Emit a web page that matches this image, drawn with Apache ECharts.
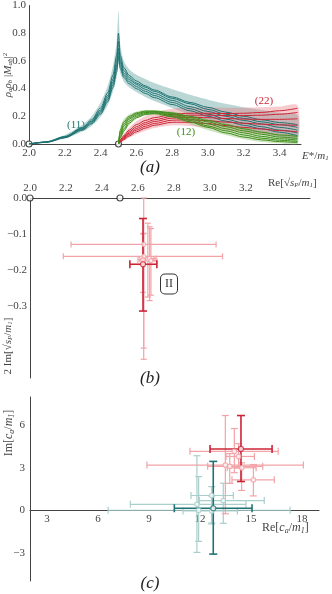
<!DOCTYPE html>
<html>
<head>
<meta charset="utf-8">
<script src="https://cdn.jsdelivr.net/npm/echarts@6/dist/echarts.min.js"></script>
<style>
html, body { margin: 0; padding: 0; background: #fff; }
#chart { width: 332px; height: 594px; }
</style>
</head>
<body>
<div id="chart"></div>
<script>
const energy = [2.0, 2.1, 2.2, 2.3, 2.35, 2.4, 2.44, 2.47, 2.49, 2.5, 2.51, 2.53, 2.56, 2.6, 2.65, 2.7, 2.8, 2.9, 3.0, 3.1, 3.2, 3.3, 3.4, 3.5]
const energyHi = [2.5, 2.51, 2.53, 2.56, 2.6, 2.65, 2.7, 2.8, 2.9, 3.0, 3.1, 3.2, 3.3, 3.4, 3.5]

const teal1 = [0, 0.016, 0.055, 0.12, 0.175, 0.26, 0.37, 0.5, 0.64, 0.8, 0.64, 0.55, 0.495, 0.455, 0.42, 0.39, 0.34, 0.30, 0.265, 0.23, 0.20, 0.175, 0.155, 0.14]
const teal2 = [0, 0.015, 0.052, 0.115, 0.165, 0.245, 0.35, 0.47, 0.6, 0.74, 0.61, 0.53, 0.48, 0.44, 0.41, 0.38, 0.33, 0.29, 0.25, 0.215, 0.185, 0.16, 0.14, 0.12]
const teal3 = [0, 0.014, 0.05, 0.11, 0.16, 0.235, 0.335, 0.45, 0.57, 0.69, 0.59, 0.51, 0.465, 0.43, 0.395, 0.365, 0.315, 0.27, 0.235, 0.2, 0.17, 0.145, 0.12, 0.1]
const teal4 = [0, 0.013, 0.047, 0.105, 0.152, 0.225, 0.32, 0.43, 0.545, 0.66, 0.565, 0.495, 0.45, 0.415, 0.38, 0.35, 0.3, 0.255, 0.215, 0.18, 0.15, 0.125, 0.1, 0.08]
const teal5 = [0, 0.012, 0.045, 0.1, 0.145, 0.215, 0.305, 0.41, 0.52, 0.63, 0.545, 0.48, 0.435, 0.4, 0.365, 0.335, 0.285, 0.24, 0.2, 0.165, 0.135, 0.11, 0.085, 0.06]
const tealUp = [0, 0.02, 0.065, 0.14, 0.2, 0.3, 0.42, 0.57, 0.74, 0.96, 0.72, 0.6, 0.54, 0.5, 0.47, 0.44, 0.395, 0.355, 0.32, 0.29, 0.265, 0.245, 0.225, 0.21]
const tealLo = [0, 0.01, 0.04, 0.09, 0.13, 0.195, 0.28, 0.38, 0.48, 0.58, 0.51, 0.45, 0.41, 0.375, 0.34, 0.31, 0.26, 0.21, 0.17, 0.13, 0.1, 0.075, 0.05, 0.03]

const green1 = [0, 0.1, 0.16, 0.2, 0.225, 0.238, 0.238, 0.225, 0.2, 0.17, 0.14, 0.11, 0.085, 0.065, 0.055]
const green2 = [0, 0.085, 0.145, 0.19, 0.218, 0.232, 0.234, 0.22, 0.19, 0.16, 0.125, 0.095, 0.07, 0.05, 0.04]
const green3 = [0, 0.07, 0.13, 0.18, 0.21, 0.227, 0.23, 0.213, 0.18, 0.145, 0.11, 0.08, 0.055, 0.038, 0.028]
const green4 = [0, 0.055, 0.11, 0.165, 0.2, 0.22, 0.225, 0.205, 0.17, 0.13, 0.095, 0.065, 0.042, 0.027, 0.018]
const green5 = [0, 0.045, 0.095, 0.15, 0.19, 0.213, 0.22, 0.197, 0.16, 0.12, 0.08, 0.05, 0.03, 0.017, 0.01]
const greenUp = [0, 0.12, 0.18, 0.215, 0.235, 0.245, 0.245, 0.235, 0.21, 0.18, 0.15, 0.12, 0.095, 0.075, 0.065]
const greenLo = [0, 0.035, 0.08, 0.135, 0.18, 0.205, 0.21, 0.185, 0.145, 0.1, 0.065, 0.035, 0.015, 0.005, 0]

const red1 = [0, 0.03, 0.06, 0.1, 0.14, 0.17, 0.19, 0.215, 0.222, 0.222, 0.22, 0.222, 0.228, 0.24, 0.258]
const red2 = [0, 0.025, 0.052, 0.088, 0.125, 0.155, 0.175, 0.2, 0.208, 0.208, 0.205, 0.205, 0.208, 0.215, 0.228]
const red3 = [0, 0.02, 0.045, 0.078, 0.112, 0.142, 0.162, 0.187, 0.193, 0.19, 0.184, 0.18, 0.178, 0.178, 0.182]
const red4 = [0, 0.017, 0.038, 0.068, 0.1, 0.128, 0.148, 0.172, 0.175, 0.168, 0.158, 0.15, 0.143, 0.138, 0.135]
const red5 = [0, 0.014, 0.032, 0.058, 0.088, 0.115, 0.135, 0.157, 0.157, 0.147, 0.133, 0.12, 0.108, 0.097, 0.088]
const redUp = [0, 0.04, 0.075, 0.12, 0.165, 0.2, 0.225, 0.255, 0.265, 0.265, 0.262, 0.262, 0.265, 0.27, 0.28]
const redLo = [0, 0.008, 0.022, 0.045, 0.07, 0.095, 0.115, 0.135, 0.13, 0.115, 0.098, 0.083, 0.07, 0.058, 0.048]

const thresholds = [[2.0, 0], [2.5, 0]]

// (b) pole positions: [re, im, reLo, reHi, imLo, imHi]
const poleMain = [[2.628, -0.184, 2.555, 2.705, -0.314, -0.057]]
const poleOthers = [
  [2.632, -0.129, 2.228, 3.034, -0.448, 0.0],
  [2.632, -0.162, 2.185, 3.07, -0.417, -0.098],
  [2.655, -0.170, 2.61, 2.69, -0.275, -0.07],
  [2.665, -0.168, 2.63, 2.70, -0.285, -0.08],
  [2.672, -0.174, 2.64, 2.705, -0.27, -0.085],
  [2.628, -0.172, 2.60, 2.675, -0.262, -0.1]
]

// (c) couplings: [re, im, reLo, reHi, imLo, imHi]
const tealMain = [[12.78, 0.14, 10.49, 15.06, -3.1, 3.45]]
const tealOthers = [
  [11.82, 0.42, 7.9, 14.7, -2.98, 3.85],
  [12.69, 1.04, 11.47, 13.96, -0.97, 1.67],
  [13.37, 0.68, 11.96, 15.78, -0.92, 1.91],
  [11.92, 0.0, 6.6, 17.3, -2.2, 2.38],
  [12.69, -0.05, 11.0, 14.2, -0.9, 1.0]
]
const redMain = [[14.41, 4.33, 12.59, 16.24, 2.03, 6.69]]
const redOthers = [
  [14.02, 4.16, 11.41, 16.6, 2.65, 5.77],
  [14.27, 3.8, 13.53, 15.2, 2.98, 4.7],
  [13.49, 3.19, 8.88, 18.08, -0.25, 6.69],
  [15.14, 2.15, 13.88, 16.37, 1.01, 3.23],
  [13.75, 3.1, 12.45, 15.69, 1.9, 4.0],
  [14.45, 3.0, 13.6, 15.3, 1.4, 3.35]
]

const C_TEAL = '#1f7473'
const C_TEAL_L = '#a9cfcc'
const C_RED = '#cc2436'
const C_PINK = '#f2a3a8'
const C_GREEN = '#3f8f1c'
const FONT = 'Liberation Serif'

const pair = (xs, ys) => xs.map((x, i) => [x, ys[i]])
const fmt = v => v.toFixed(1).replace('-', '−')

function curve (xs, ys, color) {
  return {
    type: 'line', xAxisIndex: 0, yAxisIndex: 0, data: pair(xs, ys),
    smooth: 0.3, smoothMonotone: 'x', symbol: 'none', silent: true,
    lineStyle: { color, width: 1 }
  }
}

// shaded band: one polygon through the upper edge and back along the lower edge
function band (xs, lo, up, color) {
  return {
    type: 'custom', xAxisIndex: 0, yAxisIndex: 0, silent: true,
    data: [[xs[0], lo[0]]],
    renderItem (params, api) {
      const top = xs.map((x, i) => api.coord([x, up[i]]))
      const bottom = xs.map((x, i) => api.coord([x, lo[i]])).reverse()
      return {
        type: 'polygon',
        shape: { points: top.concat(bottom), smooth: 0.25 },
        style: { fill: color }
      }
    }
  }
}

function errorBars (data, gi, color, width, cap) {
  return {
    type: 'custom', xAxisIndex: gi, yAxisIndex: gi, data, silent: true,
    encode: { x: 0, y: 1 },
    renderItem (params, api) {
      const x = api.value(0)
      const y = api.value(1)
      const c = api.coord([x, y])
      const l = api.coord([api.value(2), y])
      const r = api.coord([api.value(3), y])
      const b = api.coord([x, api.value(4)])
      const t = api.coord([x, api.value(5)])
      const style = { stroke: color, lineWidth: width }
      const seg = (x1, y1, x2, y2) => ({ type: 'line', shape: { x1, y1, x2, y2 }, style })
      return {
        type: 'group',
        children: [
          seg(l[0], c[1], r[0], c[1]),
          seg(l[0], c[1] - cap, l[0], c[1] + cap),
          seg(r[0], c[1] - cap, r[0], c[1] + cap),
          seg(c[0], b[1], c[0], t[1]),
          seg(c[0] - cap, b[1], c[0] + cap, b[1]),
          seg(c[0] - cap, t[1], c[0] + cap, t[1])
        ]
      }
    }
  }
}

function centers (data, gi, color, size) {
  return {
    type: 'scatter', xAxisIndex: gi, yAxisIndex: gi, silent: true, clip: false,
    data: data.map(d => [d[0], d[1]]), symbolSize: size,
    itemStyle: { color: '#fff', borderColor: color, borderWidth: 1.2 }
  }
}

function richName (text, x, y, size, rotated, align) {
  const base = { fontFamily: FONT, fontSize: size, fill: '#444' }
  return {
    type: 'text', x, y, rotation: rotated ? Math.PI / 2 : 0,
    style: {
      text, align: align || 'left', verticalAlign: 'middle', fill: '#444',
      rich: {
        n: base,
        i: { ...base, fontStyle: 'italic' },
        s: { ...base, fontStyle: 'italic', fontSize: size - 4, padding: [5, 0, 0, 0] },
        p: { ...base, fontSize: size - 4, padding: [0, 0, 6, 0] }
      }
    }
  }
}

const axisLineStyle = { lineStyle: { color: '#444', width: 1 } }
const labelStyle = { color: '#444', fontFamily: FONT, fontSize: 11 }

const option = {
  animation: false,
  grid: [
    { left: 29, top: 5, width: 272, height: 139 },
    { left: 30, top: 198, width: 280, height: 180 },
    { left: 30, top: 397, width: 289, height: 184 }
  ],
  xAxis: [
    {
      gridIndex: 0, type: 'value', min: 2.0, max: 3.52,
      axisLine: axisLineStyle, axisTick: { show: false }, splitLine: { show: false },
      axisLabel: { ...labelStyle, margin: 4, formatter: fmt, customValues: [2.0, 2.2, 2.4, 2.6, 2.8, 3.0, 3.2, 3.4] }
    },
    {
      gridIndex: 1, type: 'value', min: 2.0, max: 3.556, position: 'top',
      axisLine: axisLineStyle, axisTick: { show: false }, splitLine: { show: false },
      axisLabel: { ...labelStyle, margin: 4, formatter: fmt, customValues: [2.0, 2.2, 2.4, 2.6, 2.8, 3.0, 3.2] }
    },
    {
      gridIndex: 2, type: 'value', min: 2, max: 19, position: 'bottom', offset: -70.8,
      axisLine: { onZero: false, ...axisLineStyle }, axisTick: { show: false }, splitLine: { show: false },
      axisLabel: { ...labelStyle, margin: 3, customValues: [3, 6, 9, 12, 15, 18] }
    }
  ],
  yAxis: [
    {
      gridIndex: 0, type: 'value', min: 0, max: 1.0,
      axisLine: { show: true, ...axisLineStyle }, axisTick: { show: false }, splitLine: { show: false },
      axisLabel: { ...labelStyle, margin: 3, formatter: fmt, customValues: [0, 0.2, 0.4, 0.6, 0.8, 1.0] }
    },
    {
      gridIndex: 1, type: 'value', min: -0.5, max: 0,
      axisLine: { show: true, onZero: false, ...axisLineStyle }, axisTick: { show: false }, splitLine: { show: false },
      axisLabel: { ...labelStyle, margin: 3, formatter: fmt, customValues: [0, -0.1, -0.2, -0.3] }
    },
    {
      gridIndex: 2, type: 'value', min: -5, max: 8,
      axisLine: { show: true, onZero: false, ...axisLineStyle }, axisTick: { show: false }, splitLine: { show: false },
      axisLabel: { ...labelStyle, margin: 5, formatter: v => String(v).replace('-', '−'), customValues: [-3, 0, 3, 6] }
    }
  ],
  series: [
    band(energy, tealLo, tealUp, 'rgba(90,160,158,0.42)'),
    band(energyHi, redLo, redUp, 'rgba(232,120,130,0.38)'),
    band(energyHi, greenLo, greenUp, 'rgba(130,185,90,0.38)'),
    curve(energy, teal1, C_TEAL), curve(energy, teal2, C_TEAL), curve(energy, teal3, C_TEAL),
    curve(energy, teal4, C_TEAL), curve(energy, teal5, C_TEAL),
    curve(energyHi, red1, C_RED), curve(energyHi, red2, C_RED), curve(energyHi, red3, C_RED),
    curve(energyHi, red4, C_RED), curve(energyHi, red5, C_RED),
    curve(energyHi, green1, C_GREEN), curve(energyHi, green2, C_GREEN), curve(energyHi, green3, C_GREEN),
    curve(energyHi, green4, C_GREEN), curve(energyHi, green5, C_GREEN),
    centers(thresholds, 0, '#222', 6),

    errorBars(poleOthers, 1, C_PINK, 1.2, 3),
    centers(poleOthers, 1, C_PINK, 4),
    errorBars(poleMain, 1, C_RED, 1.6, 4),
    centers(poleMain, 1, C_RED, 5),
    centers(thresholds, 1, '#222', 6),

    errorBars(tealOthers, 2, C_TEAL_L, 1.2, 3.5),
    centers(tealOthers, 2, C_TEAL_L, 4.5),
    errorBars(redOthers, 2, C_PINK, 1.2, 3.5),
    centers(redOthers, 2, C_PINK, 4.5),
    errorBars(tealMain, 2, C_TEAL, 1.6, 4),
    centers(tealMain, 2, C_TEAL, 5),
    errorBars(redMain, 2, C_RED, 1.6, 4),
    centers(redMain, 2, C_RED, 5)
  ],
  graphic: [
    { type: 'text', x: 76, y: 125, style: { text: '(11)', fill: C_TEAL, font: '11px "Liberation Serif"', align: 'center', verticalAlign: 'middle' } },
    { type: 'text', x: 186, y: 132, style: { text: '(12)', fill: C_GREEN, font: '11px "Liberation Serif"', align: 'center', verticalAlign: 'middle' } },
    { type: 'text', x: 264, y: 101, style: { text: '(22)', fill: C_RED, font: '11px "Liberation Serif"', align: 'center', verticalAlign: 'middle' } },
    richName('{i|E}{n|*/}{i|m}{s|1}', 302, 156, 11, false),
    richName('{i|ρ}{s|a}{i|ρ}{s|b}{n| |}{i|M}{s|ab}{n||}{p|2}', 8, 75, 11, true, 'center'),
    { type: 'text', x: 150, y: 168, style: { text: '(a)', font: 'italic 17px "Liberation Serif"', fill: '#222', align: 'center', verticalAlign: 'middle' } },
    richName('{n|Re[√}{i|s}{s|P}{n|/}{i|m}{s|1}{n|]}', 268, 183, 11, false),
    richName('{n|2 Im[√}{i|s}{s|P}{n|/}{i|m}{s|1}{n|]}', 8, 346, 11, true, 'center'),
    {
      type: 'text', x: 169, y: 284,
      style: {
        text: 'II', font: '12px "Liberation Serif"', fill: '#333', align: 'center', verticalAlign: 'middle',
        backgroundColor: '#fff', borderColor: '#333', borderWidth: 1, borderRadius: 4, padding: [4, 4, 3, 4]
      }
    },
    { type: 'text', x: 150, y: 379, style: { text: '(b)', font: 'italic 17px "Liberation Serif"', fill: '#222', align: 'center', verticalAlign: 'middle' } },
    richName('{n|Re[}{i|c}{s|a}{n|/}{i|m}{s|1}{n|]}', 262, 528, 12, false),
    richName('{n|Im[}{i|c}{s|a}{n|/}{i|m}{s|1}{n|]}', 9, 433, 12, true, 'center'),
    { type: 'text', x: 150, y: 584, style: { text: '(c)', font: 'italic 17px "Liberation Serif"', fill: '#222', align: 'center', verticalAlign: 'middle' } }
  ]
}

const chart = echarts.init(document.getElementById('chart'))
chart.setOption(option)
</script>
</body>
</html>
